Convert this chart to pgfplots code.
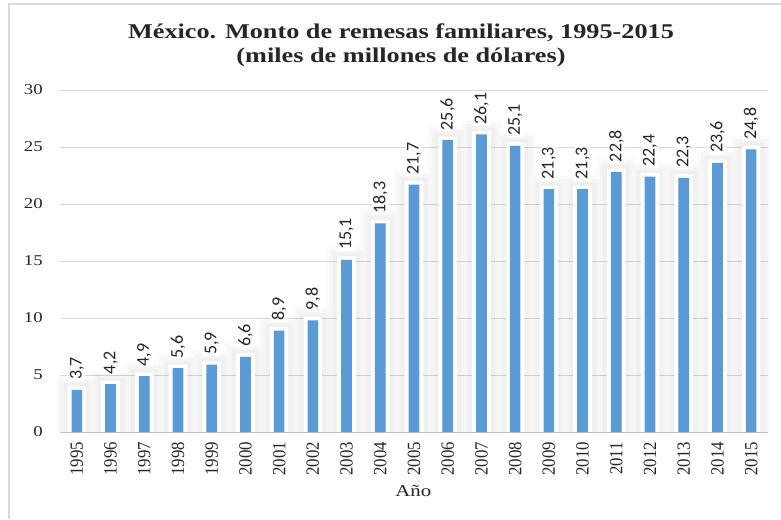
\documentclass[border=0pt]{standalone}
\usepackage{fontspec}
\usepackage{pgfplots}
\usepackage{pgfplotstable}
\pgfplotsset{compat=1.18}
\setmainfont{Liberation Serif}[FakeStretch=1.25]
\newfontfamily\rotfont{Liberation Serif}[FakeStretch=0.9]
\newfontfamily\labfont{Carlito}
\definecolor{barblue}{HTML}{5B9BD5}
\definecolor{gridgray}{HTML}{D9D9D9}
\definecolor{axgray}{HTML}{BFBFBF}
\definecolor{txt}{HTML}{262626}

\pgfplotstableread{
x v
0 3.7
1 4.2
2 4.9
3 5.6
4 5.9
5 6.6
6 8.9
7 9.8
8 15.1
9 18.3
10 21.7
11 25.6
12 26.1
13 25.1
14 21.3
15 21.3
16 22.8
17 22.4
18 22.3
19 23.6
20 24.8
}\remesas

\begin{document}
\begin{tikzpicture}
\useasboundingbox (0,0) rectangle (585.75pt,389.25pt);
\draw[gridgray, line width=1.5pt] (6.75pt,0) -- (6.75pt,386.25pt) -- (585.75pt,386.25pt);
\node[anchor=base, font=\fontsize{15.75}{18}\selectfont\bfseries, text=txt] at (300.75pt,360pt) {México. Monto de remesas familiares, 1995-2015};
\node[anchor=base, font=\fontsize{15.75}{18}\selectfont\bfseries, text=txt] at (300.75pt,342pt) {(miles de millones de dólares)};
\node[anchor=base, font=\fontsize{12.5}{14}\selectfont, text=txt] at (310pt,17.25pt) {Año};
\begin{axis}[
  at={(45pt,65.25pt)}, anchor=south west,
  scale only axis, width=531pt, height=256.5pt,
  xmin=-0.5, xmax=20.5, ymin=0, ymax=30,
  ytick={0,5,...,30},
  xtick={0,...,20},
  xticklabels={1995,1996,1997,1998,1999,2000,2001,2002,2003,2004,2005,2006,2007,2008,2009,2010,2011,2012,2013,2014,2015},
  axis line style={draw=none},
  tick style={draw=none},
  major tick length=0pt,
  ymajorgrids,
  major grid style={line width=0.75pt, color=gridgray},
  /pgf/number format/assume math mode=true,
  yticklabel style={font=\fontsize{11.25}{13}\selectfont, text=txt, anchor=east, inner sep=0pt, xshift=-12.75pt},
  xticklabel style={font=\fontsize{14}{16}\selectfont\rotfont, text=txt, rotate=90, anchor=east, inner sep=0pt, outer sep=7.5pt},
  clip=false,
]
\addplot[ybar, bar shift=0pt, bar width=30pt, fill=black, opacity=0.02, draw=none] table[x=x, y expr=\thisrow{v}+1.2] {\remesas};
\addplot[ybar, bar shift=0pt, bar width=25pt, fill=black, opacity=0.02, draw=none] table[x=x, y expr=\thisrow{v}+0.9] {\remesas};
\addplot[ybar, bar shift=0pt, bar width=20pt, fill=black, opacity=0.02, draw=none] table[x=x, y expr=\thisrow{v}+0.6] {\remesas};
\addplot[ybar, bar shift=0pt, bar width=14pt, fill=white, draw=none] table[x=x, y expr=\thisrow{v}+0.3] {\remesas};
\draw[axgray, line width=0.75pt] (rel axis cs:0,0) -- (rel axis cs:1,0);
\addplot[ybar, bar shift=0pt, bar width=8pt, fill=barblue, draw=none,
  nodes near coords={\labfont\pgfmathprintnumber[fixed, fixed zerofill, precision=1, use comma, assume math mode=true]{\pgfplotspointmeta}},
  every node near coord/.append style={font=\fontsize{13.5}{15}\selectfont, text=txt, rotate=90, anchor=west, fill=white, inner sep=1pt, outer sep=6.5pt},
] table[x=x, y=v] {\remesas};
\end{axis}
\end{tikzpicture}
\end{document}
